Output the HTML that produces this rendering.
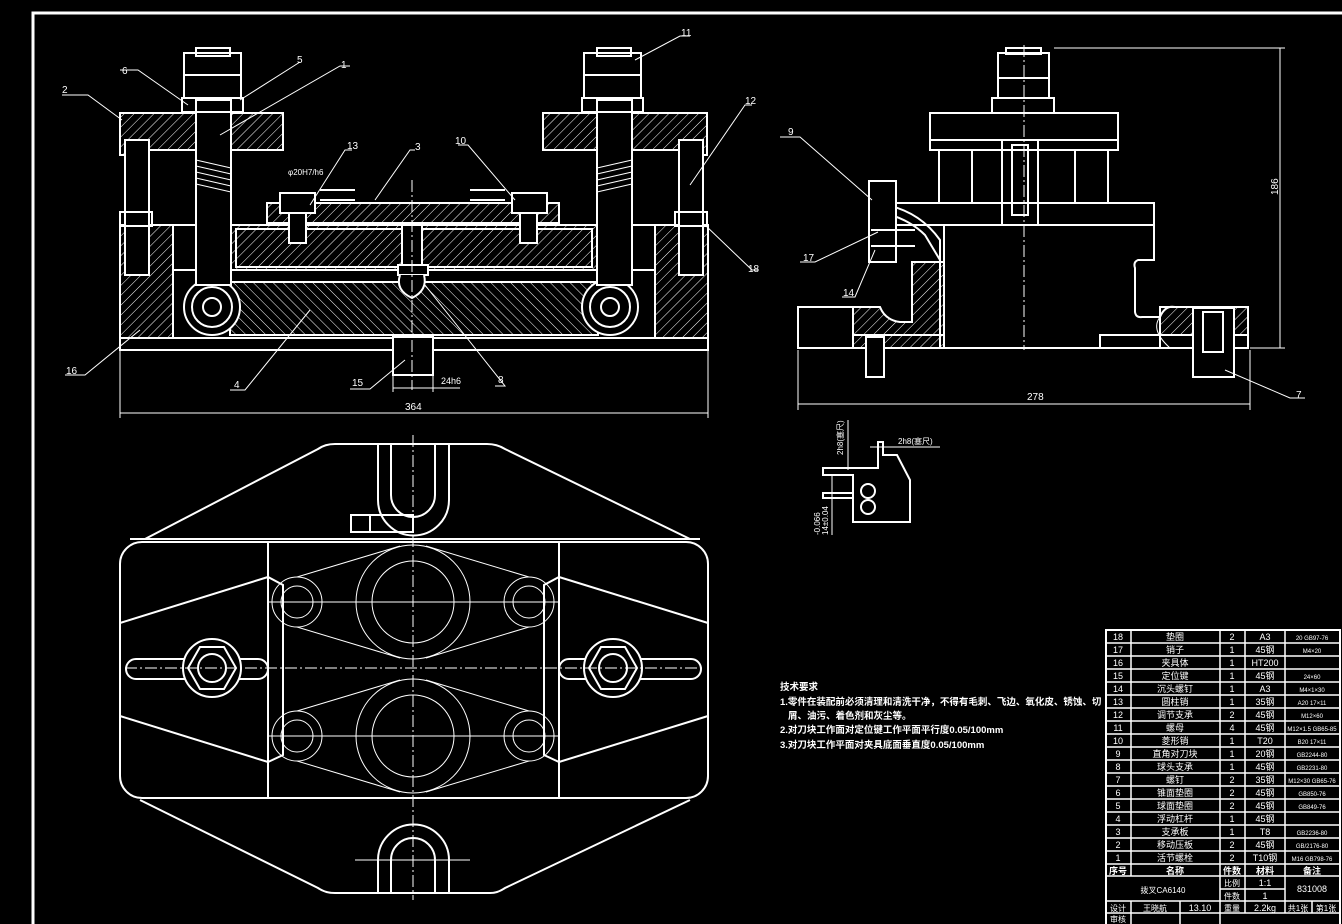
<!DOCTYPE html>
<html><head><meta charset="utf-8"><style>
html,body{margin:0;padding:0;background:#000;}
svg{display:block}
text{font-family:"Liberation Sans","Noto Sans CJK SC",sans-serif;fill:#fff}
</style></head><body>
<svg width="1342" height="924" viewBox="0 0 1342 924" xmlns="http://www.w3.org/2000/svg">
<defs>
<pattern id="h" width="7" height="7" patternUnits="userSpaceOnUse" patternTransform="rotate(45)">
<line x1="0" y1="0" x2="0" y2="7" stroke="#fff" stroke-width="1"/></pattern>
<pattern id="h2" width="7" height="7" patternUnits="userSpaceOnUse" patternTransform="rotate(-45)">
<line x1="0" y1="0" x2="0" y2="7" stroke="#fff" stroke-width="1"/></pattern>
</defs>
<rect width="1342" height="924" fill="#000"/>
<rect x="33" y="13" width="1312" height="920" fill="none" stroke="#fff" stroke-width="3"/>

<g fill="none" stroke="#fff" stroke-width="2">
<!-- ===== FRONT VIEW ===== -->
<!-- base -->
<rect x="120" y="225" width="53" height="113" fill="url(#h)"/>
<rect x="655" y="225" width="53" height="113" fill="url(#h)"/>
<rect x="120" y="225" width="588" height="125"/>
<rect x="173" y="270" width="482" height="68"/>
<rect x="230" y="225" width="368" height="45" fill="url(#h)"/>
<rect x="236" y="229" width="356" height="38"/>
<rect x="230" y="282" width="368" height="53" fill="url(#h2)"/>
<!-- eyes -->
<circle cx="212" cy="307" r="28" fill="#000"/><circle cx="212" cy="307" r="20"/><circle cx="212" cy="307" r="9"/>
<circle cx="610" cy="307" r="28" fill="#000"/><circle cx="610" cy="307" r="20"/><circle cx="610" cy="307" r="9"/>
<!-- shafts -->
<rect x="196" y="100" width="35" height="185" fill="#000"/>
<rect x="597" y="100" width="35" height="185" fill="#000"/>
<!-- springs -->
<path d="M196 160 L231 168 M196 166 L231 174 M196 172 L231 180 M196 178 L231 186 M196 184 L231 192" stroke-width="1"/>
<path d="M597 168 L632 160 M597 174 L632 166 M597 180 L632 172 M597 186 L632 178 M597 192 L632 184" stroke-width="1"/>
<!-- clamp plates -->
<path d="M120 113 H196 V150 H140 V155 H120 Z" fill="url(#h)"/>
<path d="M231 113 H283 V150 H231 Z" fill="url(#h)"/>
<path d="M543 113 H597 V150 H543 Z" fill="url(#h)"/>
<path d="M632 113 H707 V155 H686 V150 H632 Z" fill="url(#h)"/>
<!-- nuts -->
<rect x="184" y="53" width="57" height="45"/><rect x="196" y="48" width="34" height="8"/><line x1="184" y1="75" x2="241" y2="75"/>
<rect x="584" y="53" width="57" height="45"/><rect x="597" y="48" width="34" height="8"/><line x1="584" y1="75" x2="641" y2="75"/>
<rect x="182" y="98" width="61" height="14"/><rect x="582" y="98" width="61" height="14"/>
<!-- pillars -->
<rect x="125" y="140" width="24" height="135" fill="#000"/><rect x="120" y="212" width="32" height="14"/>
<rect x="679" y="140" width="24" height="135" fill="#000"/><rect x="675" y="212" width="32" height="14"/>
<!-- plate 3 -->
<rect x="267" y="203" width="292" height="20" fill="url(#h)"/>
<rect x="280" y="193" width="35" height="20" fill="#000"/><rect x="289" y="213" width="17" height="30" fill="#000"/>
<rect x="512" y="193" width="35" height="20" fill="#000"/><rect x="520" y="213" width="17" height="30" fill="#000"/>
<rect x="402" y="225" width="20" height="45" fill="#000"/><rect x="398" y="265" width="30" height="10" fill="#000"/>
<path d="M400 275 Q395 290 412 298 Q428 290 424 275" fill="#000"/>
<line x1="320" y1="190" x2="355" y2="190"/><line x1="470" y1="190" x2="505" y2="190"/>
<line x1="320" y1="200" x2="355" y2="200"/><line x1="470" y1="200" x2="505" y2="200"/>
<!-- pin 15 -->
<rect x="393" y="337" width="40" height="38" fill="#000"/>
<!-- dims -->
<g stroke-width="1">
<line x1="120" y1="350" x2="120" y2="418"/><line x1="708" y1="350" x2="708" y2="418"/>
<line x1="120" y1="413" x2="708" y2="413"/>
<line x1="393" y1="375" x2="393" y2="392"/><line x1="433" y1="375" x2="433" y2="392"/>
<line x1="393" y1="388" x2="460" y2="388"/>
<line x1="412" y1="180" x2="412" y2="390" stroke-dasharray="12 3 2 3"/>
<!-- leaders -->
<path d="M62 95 H88 L122 120"/><path d="M120 70 H138 L188 105"/><path d="M300 62 L240 100"/>
<path d="M350 66 H340 L220 135"/><path d="M690 36 H680 L635 60"/><path d="M752 105 H745 L690 185"/>
<path d="M758 270 H752 L705 225"/><path d="M65 375 H85 L140 330"/><path d="M230 390 H245 L310 310"/>
<path d="M350 389 H370 L405 360"/><path d="M495 386 H505 L425 285"/><path d="M352 150 H345 L310 205"/>
<path d="M415 150 H410 L375 200"/><path d="M458 145 H468 L515 200"/>
</g>

<!-- ===== SIDE VIEW ===== -->
<rect x="798" y="307" width="55" height="41"/>
<path d="M853 307 H880 Q885 320 900 322 H912 V262 H944 V348 H853 Z" fill="url(#h)"/>
<path d="M869 203 Q915 205 940 240 V348" />
<path d="M869 210 Q905 215 925 235 L940 260" fill="none"/>
<rect x="853" y="335" width="91" height="13"/>
<rect x="866" y="337" width="18" height="40" fill="#000"/>
<path d="M944 225 H1154 V260 H1138 Q1133 262 1135 268 V312 Q1136 318 1142 317 H1160 Q1165 305 1175 307 H1248 V348 H944 Z"/>
<path d="M1160 317 Q1150 330 1170 348" stroke-width="1"/>
<rect x="1160" y="307" width="88" height="28" fill="url(#h)"/>
<rect x="1100" y="335" width="60" height="13"/>
<rect x="1193" y="308" width="41" height="69" fill="#000"/><rect x="1203" y="312" width="20" height="40"/>
<rect x="869" y="181" width="27" height="81" fill="#000"/>
<rect x="896" y="203" width="258" height="22"/>
<rect x="930" y="113" width="188" height="37"/><line x1="930" y1="140" x2="1118" y2="140"/>
<rect x="939" y="150" width="33" height="53"/><rect x="1075" y="150" width="33" height="53"/>
<rect x="1002" y="140" width="36" height="85"/><rect x="1012" y="145" width="16" height="70"/>
<rect x="998" y="53" width="51" height="45"/><rect x="1006" y="48" width="35" height="6"/><line x1="998" y1="78" x2="1049" y2="78"/>
<rect x="992" y="98" width="62" height="15"/>
<line x1="871" y1="230" x2="915" y2="230"/><line x1="871" y1="246" x2="915" y2="246"/>
<g stroke-width="1">
<line x1="1024" y1="45" x2="1024" y2="350" stroke-dasharray="12 3 2 3"/>
<line x1="1054" y1="48" x2="1285" y2="48"/><line x1="1250" y1="348" x2="1285" y2="348"/>
<line x1="1280" y1="48" x2="1280" y2="348"/>
<line x1="798" y1="350" x2="798" y2="410"/><line x1="1250" y1="350" x2="1250" y2="410"/>
<line x1="798" y1="404" x2="1250" y2="404"/>
<path d="M780 137 H800 L872 200"/><path d="M800 262 H815 L878 232"/><path d="M842 297 H855 L875 250"/>
<path d="M1305 398 H1290 L1225 370"/>
</g>

<!-- small detail -->
<path d="M823 468 H878 V442 H883 V455 H897 L910 480 V522 H853 V475 H823 Z"/>
<rect x="823" y="493" width="30" height="5"/>
<circle cx="868" cy="491" r="7"/><circle cx="868" cy="507" r="7"/>
<g stroke-width="1"><line x1="848" y1="420" x2="848" y2="470"/><line x1="832" y1="476" x2="832" y2="535"/><line x1="870" y1="447" x2="940" y2="447"/></g>

<!-- ===== PLAN VIEW ===== -->
<path d="M145 539 L318 449 Q325 444 335 444 H487 Q497 444 505 449 L690 539"/>
<line x1="130" y1="539" x2="700" y2="539"/>
<rect x="120" y="542" width="588" height="256" rx="22"/>
<path d="M140 800 L318 888 Q325 893 335 893 H490 Q498 893 505 888 L690 800"/>
<line x1="268" y1="542" x2="268" y2="798"/><line x1="559" y1="542" x2="559" y2="798"/>
<path d="M120 623 L268 577 L283 585 V755 L268 762 L120 716"/>
<path d="M708 623 L559 577 L544 585 V755 L559 762 L708 716"/>
<path d="M378 444 V500 A35 35 0 0 0 449 500 V444"/><path d="M391 444 V495 A22 22 0 0 0 435 495 V444"/>
<rect x="351" y="515" width="62" height="17"/><line x1="370" y1="515" x2="370" y2="532"/>
<path d="M378 893 V860 A35 35 0 0 1 449 860 V893"/><path d="M391 893 V860 A22 22 0 0 1 435 860 V893"/>
<rect x="126" y="659" width="142" height="20" rx="10" fill="#000"/>
<rect x="559" y="659" width="142" height="20" rx="10" fill="#000"/>
<circle cx="212" cy="668" r="29" fill="#000"/><polygon points="188,668 200,647 224,647 236,668 224,689 200,689"/><circle cx="212" cy="668" r="14"/>
<circle cx="613" cy="668" r="29" fill="#000"/><polygon points="589,668 601,647 625,647 637,668 625,689 601,689"/><circle cx="613" cy="668" r="14"/>
<g stroke-width="1">
<circle cx="413" cy="602" r="57"/><circle cx="413" cy="602" r="41"/>
<circle cx="413" cy="736" r="57"/><circle cx="413" cy="736" r="41"/>
<circle cx="297" cy="602" r="25"/><circle cx="297" cy="602" r="16"/>
<circle cx="529" cy="602" r="25"/><circle cx="529" cy="602" r="16"/>
<circle cx="297" cy="736" r="25"/><circle cx="297" cy="736" r="16"/>
<circle cx="529" cy="736" r="25"/><circle cx="529" cy="736" r="16"/>
<path d="M297 577 L400 546 M297 627 L400 658 M529 577 L426 546 M529 627 L426 658"/>
<path d="M297 711 L400 680 M297 761 L400 792 M529 711 L426 680 M529 761 L426 792"/>
<line x1="413" y1="435" x2="413" y2="900" stroke-dasharray="12 3 2 3"/>
<line x1="125" y1="668" x2="705" y2="668" stroke-dasharray="12 3 2 3"/>
<line x1="268" y1="602" x2="560" y2="602"/><line x1="268" y1="736" x2="560" y2="736"/>
<line x1="355" y1="860" x2="470" y2="860"/>
</g>

<!-- ===== TABLE ===== -->
<rect x="1106" y="630" width="234" height="300"/>
<g stroke-width="1.5">
<line x1="1131" y1="630" x2="1131" y2="876"/><line x1="1220" y1="630" x2="1220" y2="876"/>
<line x1="1245" y1="630" x2="1245" y2="876"/><line x1="1285" y1="630" x2="1285" y2="876"/>
<line x1="1106" y1="876" x2="1340" y2="876"/>
<line x1="1106" y1="901" x2="1340" y2="901"/>
<line x1="1220" y1="876" x2="1220" y2="924"/><line x1="1245" y1="876" x2="1245" y2="913"/>
<line x1="1285" y1="876" x2="1285" y2="913"/><line x1="1220" y1="889" x2="1285" y2="889"/>
<line x1="1106" y1="913" x2="1340" y2="913"/>
<line x1="1131" y1="901" x2="1131" y2="924"/><line x1="1180" y1="901" x2="1180" y2="924"/>
<line x1="1312" y1="901" x2="1312" y2="913"/>
</g>
<g stroke-width="1.5" id="rows">
<line x1="1106" y1="643" x2="1340" y2="643"/><line x1="1106" y1="656" x2="1340" y2="656"/>
<line x1="1106" y1="669" x2="1340" y2="669"/><line x1="1106" y1="682" x2="1340" y2="682"/>
<line x1="1106" y1="695" x2="1340" y2="695"/><line x1="1106" y1="708" x2="1340" y2="708"/>
<line x1="1106" y1="721" x2="1340" y2="721"/><line x1="1106" y1="734" x2="1340" y2="734"/>
<line x1="1106" y1="747" x2="1340" y2="747"/><line x1="1106" y1="760" x2="1340" y2="760"/>
<line x1="1106" y1="773" x2="1340" y2="773"/><line x1="1106" y1="786" x2="1340" y2="786"/>
<line x1="1106" y1="799" x2="1340" y2="799"/><line x1="1106" y1="812" x2="1340" y2="812"/>
<line x1="1106" y1="825" x2="1340" y2="825"/><line x1="1106" y1="838" x2="1340" y2="838"/>
<line x1="1106" y1="851" x2="1340" y2="851"/><line x1="1106" y1="864" x2="1340" y2="864"/>
</g>
</g>

<!-- labels -->
<g font-size="10">
<text x="62" y="93">2</text><text x="122" y="74">6</text><text x="297" y="63">5</text><text x="341" y="68">1</text>
<text x="681" y="36">11</text><text x="745" y="104">12</text><text x="748" y="272">18</text><text x="66" y="374">16</text>
<text x="347" y="149">13</text><text x="415" y="150">3</text><text x="455" y="144">10</text>
<text x="234" y="388">4</text><text x="352" y="386">15</text><text x="498" y="383">8</text>
<text x="441" y="384" font-size="9">24h6</text><text x="405" y="410">364</text>
<text x="288" y="175" font-size="8">φ20H7/h6</text>
<text x="788" y="135">9</text><text x="803" y="261">17</text><text x="843" y="296">14</text>
<text x="1296" y="398">7</text><text x="1027" y="400">278</text>
<text x="1278" y="195" transform="rotate(-90 1278 195)">186</text>
<text x="898" y="444" font-size="8">2h8(塞尺)</text>
<text x="843" y="455" font-size="8" transform="rotate(-90 843 455)">2h8(塞尺)</text>
<text x="828" y="535" font-size="8" transform="rotate(-90 828 535)">14±0.04</text>
<text x="820" y="535" font-size="8" transform="rotate(-90 820 535)">-0.066</text>
</g>
<g font-size="9.5" font-weight="bold">
<text x="780" y="690">技术要求</text>
<text x="780" y="705">1.零件在装配前必须清理和清洗干净，不得有毛刺、飞边、氧化皮、锈蚀、切</text>
<text x="788" y="719">屑、油污、着色剂和灰尘等。</text>
<text x="780" y="733">2.对刀块工作面对定位键工作平面平行度0.05/100mm</text>
<text x="780" y="748">3.对刀块工作平面对夹具底面垂直度0.05/100mm</text>
</g>
<g font-size="9" text-anchor="middle">
<text x="1118" y="640">18</text><text x="1175" y="640">垫圈</text><text x="1232" y="640">2</text><text x="1265" y="640">A3</text><text x="1312" y="640" font-size="6">20 GB97-76</text>
<text x="1118" y="653">17</text><text x="1175" y="653">销子</text><text x="1232" y="653">1</text><text x="1265" y="653">45钢</text><text x="1312" y="653" font-size="6">M4×20</text>
<text x="1118" y="666">16</text><text x="1175" y="666">夹具体</text><text x="1232" y="666">1</text><text x="1265" y="666">HT200</text>
<text x="1118" y="679">15</text><text x="1175" y="679">定位键</text><text x="1232" y="679">1</text><text x="1265" y="679">45钢</text><text x="1312" y="679" font-size="6">24×60</text>
<text x="1118" y="692">14</text><text x="1175" y="692">沉头螺钉</text><text x="1232" y="692">1</text><text x="1265" y="692">A3</text><text x="1312" y="692" font-size="6">M4×1×30</text>
<text x="1118" y="705">13</text><text x="1175" y="705">圆柱销</text><text x="1232" y="705">1</text><text x="1265" y="705">35钢</text><text x="1312" y="705" font-size="6">A20 17×11</text>
<text x="1118" y="718">12</text><text x="1175" y="718">调节支承</text><text x="1232" y="718">2</text><text x="1265" y="718">45钢</text><text x="1312" y="718" font-size="6">M12×60</text>
<text x="1118" y="731">11</text><text x="1175" y="731">螺母</text><text x="1232" y="731">4</text><text x="1265" y="731">45钢</text><text x="1312" y="731" font-size="6">M12×1.5 GB65-85</text>
<text x="1118" y="744">10</text><text x="1175" y="744">菱形销</text><text x="1232" y="744">1</text><text x="1265" y="744">T20</text><text x="1312" y="744" font-size="6">B20 17×11</text>
<text x="1118" y="757">9</text><text x="1175" y="757">直角对刀块</text><text x="1232" y="757">1</text><text x="1265" y="757">20钢</text><text x="1312" y="757" font-size="6">GB2244-80</text>
<text x="1118" y="770">8</text><text x="1175" y="770">球头支承</text><text x="1232" y="770">1</text><text x="1265" y="770">45钢</text><text x="1312" y="770" font-size="6">GB2231-80</text>
<text x="1118" y="783">7</text><text x="1175" y="783">螺钉</text><text x="1232" y="783">2</text><text x="1265" y="783">35钢</text><text x="1312" y="783" font-size="6">M12×30 GB65-76</text>
<text x="1118" y="796">6</text><text x="1175" y="796">锥面垫圈</text><text x="1232" y="796">2</text><text x="1265" y="796">45钢</text><text x="1312" y="796" font-size="6">GB850-76</text>
<text x="1118" y="809">5</text><text x="1175" y="809">球面垫圈</text><text x="1232" y="809">2</text><text x="1265" y="809">45钢</text><text x="1312" y="809" font-size="6">GB849-76</text>
<text x="1118" y="822">4</text><text x="1175" y="822">浮动杠杆</text><text x="1232" y="822">1</text><text x="1265" y="822">45钢</text>
<text x="1118" y="835">3</text><text x="1175" y="835">支承板</text><text x="1232" y="835">1</text><text x="1265" y="835">T8</text><text x="1312" y="835" font-size="6">GB2236-80</text>
<text x="1118" y="848">2</text><text x="1175" y="848">移动压板</text><text x="1232" y="848">2</text><text x="1265" y="848">45钢</text><text x="1312" y="848" font-size="6">GB/2176-80</text>
<text x="1118" y="861">1</text><text x="1175" y="861">活节螺栓</text><text x="1232" y="861">2</text><text x="1265" y="861">T10钢</text><text x="1312" y="861" font-size="6">M16 GB798-76</text>
<text x="1118" y="874" font-weight="bold">序号</text><text x="1175" y="874" font-weight="bold">名称</text><text x="1232" y="874" font-weight="bold">件数</text><text x="1265" y="874" font-weight="bold">材料</text><text x="1312" y="874" font-weight="bold">备注</text>
<text x="1163" y="893" font-size="8">拨叉CA6140</text>
<text x="1232" y="886" font-size="8">比例</text><text x="1265" y="886">1:1</text>
<text x="1232" y="899" font-size="8">件数</text><text x="1265" y="899">1</text>
<text x="1312" y="892">831008</text>
<text x="1118" y="911" font-size="8">设计</text><text x="1155" y="911" font-size="8">王晓航</text><text x="1200" y="911">13.10</text>
<text x="1232" y="911" font-size="8">重量</text><text x="1265" y="911">2.2kg</text><text x="1298" y="911" font-size="8">共1张</text><text x="1326" y="911" font-size="8">第1张</text>
<text x="1118" y="922" font-size="8">审核</text>
</g>
</svg>
</body></html>
